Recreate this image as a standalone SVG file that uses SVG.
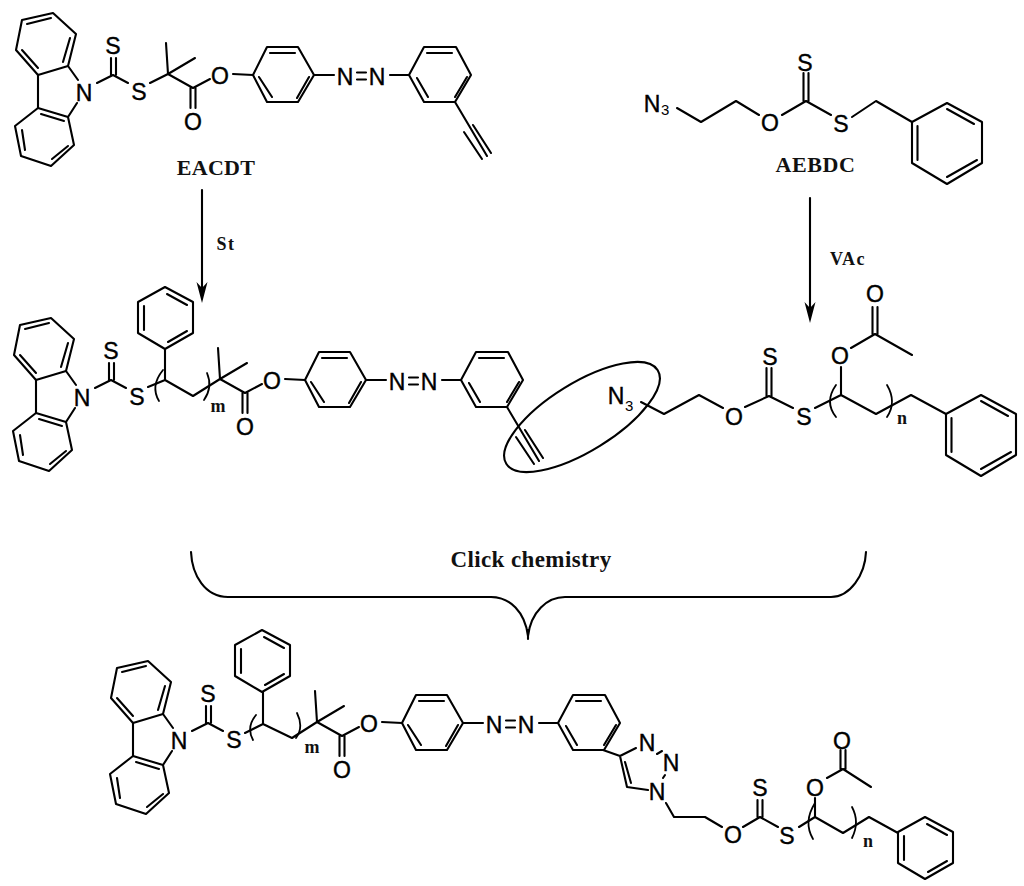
<svg xmlns="http://www.w3.org/2000/svg" width="1024" height="886" viewBox="0 0 1024 886">
<style>
.b{fill:none;stroke:#000;stroke-width:2.1;stroke-linecap:round;stroke-linejoin:round}
.thin{fill:none;stroke:#000;stroke-width:1.8;stroke-linecap:round}
.a{font-family:"Liberation Sans",Arial,sans-serif;font-size:23px;text-anchor:middle;fill:#000;stroke:#000;stroke-width:.4}
.s{font-family:"Liberation Sans",Arial,sans-serif;font-size:15px;fill:#000}
.l{font-family:"Liberation Serif","Times New Roman",serif;font-weight:bold;fill:#111;text-anchor:middle}
.idx{font-family:"Liberation Serif","Times New Roman",serif;font-weight:bold;font-size:18px;fill:#111;text-anchor:middle}
</style>
<defs>
<path id="ah" d="M0,0 L-5.5,-21 L0,-15 L5.5,-21 Z" fill="#000"/>
<g id="carbazole">
<path class="b" d="M53,13 L22,20 L16,50 L38,75 L68,66 L76,34 Z M27,24 L51,18 M22,50 L38,68 M63,62 L70,38"/>
<path class="b" d="M38,108 L68,117 L74,145 L51,166 L21,156 L15,126 Z M41,114 L64,121 M22,130 L25,150 M52,159 L68,146"/>
<path class="b" d="M38,75 V108 M68,66 L78,80 M68,117 L77,103 M97,83 L113,75 L128,83 M111,58 V75 M116,58 V75"/>
<text class="a" x="84" y="100.5">N</text>
<text class="a" x="113" y="53.5">S</text>
<text class="a" x="139" y="99.5">S</text>
</g>
<g id="core">
<path class="b" d="M168,74 L166,43 M168,74 L195,58 M168,74 L193,88 M190.5,88 V108 M195.5,88 V108 M193,88 L210,79 M233,74 L253,75"/>
<text class="a" x="193" y="129.5">O</text>
<text class="a" x="220" y="83.5">O</text>
<path class="b" d="M253,75 L267,47 L298,47 L314,75 L298,102 L267,102 Z M270,53 H295 M259,77 L272,97 M297,98 L309,77"/>
<path class="b" d="M314,75 H334 M390,75 H409 M357,72.5 H366 M357,79.5 H366"/>
<text class="a" x="345" y="84.5">N</text>
<text class="a" x="377" y="84.5">N</text>
<path class="b" d="M409,75 L424,47 L456,47 L471,75 L455,102 L424,102 Z M427,53 H452 M417,78 L428,97 M455,97 L467,77"/>
</g>
<g id="alkyne">
<path class="b" d="M455,102 L487,156 M473,125 L491,153 M464,132 L482,159"/>
</g>
<g id="ph">
<path class="b" d="M165,287 L193,302 L193,333 L165,349 L138,333 L138,302 Z M167,294 L187,305 M144,306 V330 M168,342 L187,331"/>
</g>
<g id="phL">
<path class="b" d="M946,414 L981,395 L1016,414 L1016,455 L981,476 L946,455 Z M981,401 L1008,416 M951.5,418 V452 M981,469 L1011,452"/>
</g>
</defs>

<g id="EACDT">
<use href="#carbazole"/>
<path class="b" d="M150,83 L168,74"/>
<use href="#core"/>
<use href="#alkyne"/>
<text class="l" x="216" y="175" font-size="22" letter-spacing=".3">EACDT</text>
</g>

<g id="AEBDC">
<text class="a" x="652" y="111.5">N</text>
<text class="s" x="661" y="115">3</text>
<path class="b" d="M677,108 L701,122 L736,101 L759,115 M782,115 L806,101 L831,115 M803.5,73 V101 M808.5,73 V101 M852,117 L876,101 L912,122"/>
<text class="a" x="770" y="130.5">O</text>
<text class="a" x="805" y="70.5">S</text>
<text class="a" x="841" y="131.5">S</text>
<use href="#phL" transform="translate(-34,-292)"/>
<text class="l" x="815.5" y="172" font-size="22" letter-spacing=".6">AEBDC</text>
</g>

<g id="connectors">
<path class="b" d="M202,190 V290"/>
<use href="#ah" transform="translate(202,303)"/>
<path class="b" d="M810,198 V310"/>
<use href="#ah" transform="translate(810,323)"/>
<path class="b" d="M191,552 C192,575 205,597 228,597 L491,597 C510,597 525,612 528,636 C531,612 547,597 565,597 L831,597 C850,597 865,575 866,552 M528,630 V639"/>
</g>
<text class="l" x="226" y="250" font-size="18" letter-spacing="1.5">St</text>
<text class="l" x="848" y="265" font-size="18" letter-spacing="1.5">VAc</text>
<text class="l" x="531" y="567" font-size="23" letter-spacing=".4">Click chemistry</text>

<g id="polymer-PS">
<use href="#carbazole" transform="translate(-2,305)"/>
<path class="b" d="M148,387 L165,380 L193,396 L220,379 M165,380 V349"/>
<use href="#ph"/>
<path class="thin" d="M163,370 Q150,386 159,401 M207,373 Q213,387 204,400"/>
<text class="idx" x="218" y="412">m</text>
<use href="#core" transform="translate(52,305)"/>
<use href="#alkyne" transform="translate(52,305)"/>
</g>

<g id="polymer-PVAc">
<text class="a" x="616" y="403.5">N</text>
<text class="s" x="625" y="411">3</text>
<path class="b" d="M641,402 L664,414 L699,395 L723,408 M745,407 L769,396 L793,408 M766.5,368 V396 M771.5,368 V396 M815,408 L841,395 L876,414 L911,395 L946,414 M841,367 V395 M851,348 L875,334 L912,355 M872.5,307 V334 M877.5,307 V334"/>
<text class="a" x="734" y="424.5">O</text>
<text class="a" x="770" y="364.5">S</text>
<text class="a" x="804" y="424.5">S</text>
<text class="a" x="840" y="363.5">O</text>
<text class="a" x="875" y="301.5">O</text>
<path class="thin" d="M836,385 Q824,402 836,417 M887,385 Q897,402 887,417"/>
<text class="idx" x="902" y="424">n</text>
<use href="#phL"/>
</g>
<ellipse id="click-ring" class="b" cx="582" cy="417" rx="89" ry="34" transform="rotate(-31.7 582 417)"/>

<g id="product">
<use href="#carbazole" transform="translate(95,648)"/>
<path class="b" d="M245,733 L263,724 L292,738 L317,722 M263,724 V692"/>
<use href="#ph" transform="translate(97,343)"/>
<path class="thin" d="M256,715 Q246,727 253,740 M297,713 Q304,727 296,738"/>
<text class="idx" x="312" y="753">m</text>
<use href="#core" transform="translate(149,648)"/>
<path class="b" d="M603,750 L620,756 L636,748 M620,756 L627,787 L648,790 M625,762 L631,783 M657,754 L662,751 M665,775 L663,778 M666,803 L674,817 L705,817 L722,827 M743,827 L760,817 L778,827 M757.5,800 V817 M762.5,800 V817 M799,827 L815,817 L843,833 L869,817 L898,833 M815,798 V817 M827,778 L843,769 L871,787 M840.5,750 V769 M845.5,750 V769"/>
<text class="a" x="647" y="750.5">N</text>
<text class="a" x="671" y="770.5">N</text>
<text class="a" x="657" y="799.5">N</text>
<text class="a" x="733" y="842.5">O</text>
<text class="a" x="760" y="795.5">S</text>
<text class="a" x="787" y="843.5">S</text>
<text class="a" x="815" y="795.5">O</text>
<text class="a" x="842" y="748.5">O</text>
<path class="thin" d="M815,803 Q803,822 813,839 M852,807 Q860,822 852,838"/>
<text class="idx" x="868" y="847">n</text>
<use href="#ph" transform="translate(760,530)"/>
</g>
</svg>
